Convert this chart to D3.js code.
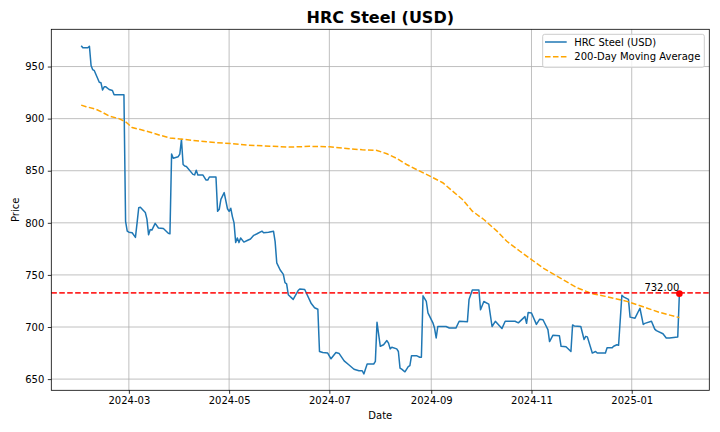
<!DOCTYPE html>
<html lang="en">
<head>
    <meta charset="UTF-8">
    <title>HRC Steel (USD)</title>
    <script src="https://d3js.org/d3.v7.min.js"></script>
    <style>
        body {
            margin: 0;
            background-color: #fff;
        }
        svg {
            display: block;
            font-family: "DejaVu Sans", sans-serif;
        }
    </style>
</head>
<body>
    <svg width="720" height="432"></svg>

    <script>
    // price series (vertices of the blue line)
    const priceDates = [
        "2024-02-01","2024-02-02","2024-02-05","2024-02-06","2024-02-07","2024-02-08","2024-02-09",
        "2024-02-12","2024-02-13","2024-02-14","2024-02-15","2024-02-16","2024-02-18","2024-02-20",
        "2024-02-21","2024-02-27","2024-02-28","2024-02-29","2024-03-01","2024-03-03","2024-03-05",
        "2024-03-06","2024-03-07","2024-03-08","2024-03-11","2024-03-12","2024-03-13","2024-03-14",
        "2024-03-15","2024-03-17","2024-03-19","2024-03-22","2024-03-25","2024-03-26","2024-03-27",
        "2024-03-28","2024-03-31","2024-04-01","2024-04-02","2024-04-03","2024-04-04","2024-04-05",
        "2024-04-09","2024-04-10","2024-04-11","2024-04-12","2024-04-15","2024-04-17","2024-04-18",
        "2024-04-19","2024-04-23","2024-04-24","2024-04-25","2024-04-26","2024-04-28","2024-04-30",
        "2024-05-01","2024-05-02","2024-05-03","2024-05-04","2024-05-05","2024-05-06","2024-05-07",
        "2024-05-08","2024-05-10","2024-05-12","2024-05-14","2024-05-16","2024-05-18","2024-05-21",
        "2024-05-22","2024-05-25","2024-05-28","2024-05-29","2024-05-30","2024-06-01","2024-06-03",
        "2024-06-04","2024-06-05","2024-06-06","2024-06-08","2024-06-09","2024-06-12","2024-06-13",
        "2024-06-16","2024-06-20","2024-06-22","2024-06-24","2024-06-25","2024-06-27","2024-06-30",
        "2024-07-02","2024-07-05","2024-07-07","2024-07-10","2024-07-13","2024-07-16","2024-07-19",
        "2024-07-21","2024-07-22","2024-07-24","2024-07-28","2024-07-29","2024-07-30","2024-08-01",
        "2024-08-03","2024-08-05","2024-08-06","2024-08-07","2024-08-08","2024-08-11","2024-08-12",
        "2024-08-13","2024-08-14","2024-08-16","2024-08-18","2024-08-19","2024-08-20","2024-08-23",
        "2024-08-25","2024-08-26","2024-08-27","2024-08-29","2024-08-30","2024-09-02","2024-09-03",
        "2024-09-04","2024-09-05","2024-09-10","2024-09-12","2024-09-16","2024-09-18","2024-09-23",
        "2024-09-24","2024-09-26","2024-09-29","2024-09-30","2024-10-01","2024-10-03","2024-10-06",
        "2024-10-08","2024-10-10","2024-10-14","2024-10-16","2024-10-22","2024-10-24","2024-10-28",
        "2024-10-29","2024-10-30","2024-11-01","2024-11-04","2024-11-06","2024-11-08","2024-11-11",
        "2024-11-12","2024-11-14","2024-11-18","2024-11-19","2024-11-22","2024-11-25","2024-11-26",
        "2024-11-27","2024-12-01","2024-12-03","2024-12-04","2024-12-05","2024-12-08","2024-12-10",
        "2024-12-11","2024-12-16","2024-12-17","2024-12-20","2024-12-21","2024-12-23","2024-12-24",
        "2024-12-26","2024-12-27","2024-12-30","2024-12-31","2025-01-03","2025-01-06","2025-01-08",
        "2025-01-09","2025-01-13","2025-01-15","2025-01-16","2025-01-20","2025-01-22","2025-01-24",
        "2025-01-29","2025-01-30"
    ];
    const prices = [
        970, 968, 968, 969.5, 951, 947, 946,
        935, 934.5, 927.5, 930.5, 930.5, 928, 927,
        923, 923, 801.5, 792, 791, 790.5, 786,
        800, 814.5, 815, 810, 803.5, 788.5, 793.5,
        793, 799.5, 795, 794.5, 790, 789.5, 866,
        862, 863.5, 866, 880, 856, 854.5, 854,
        846.5, 846, 850.5, 846, 846, 841, 841,
        844, 844, 811, 813, 822.5, 829, 813.5,
        811, 814, 806, 800, 781, 785.5, 781,
        785.5, 781.5, 783, 784.5, 788, 789.5, 792,
        790.5, 791, 792, 782, 761.5, 755, 750.5,
        742.5, 741.5, 731, 728, 726.5, 735, 736.5,
        736, 722.5, 718.5, 717, 676.5, 675.5, 675,
        669.5, 675.5, 674.5, 667.5, 663.5, 659.5, 658,
        658, 655, 664.5, 664.5, 667, 704.5, 681.5,
        683, 687, 684.5, 679, 680.5, 679, 676.5,
        660.5, 659.5, 657, 662, 663, 672.5, 672.5,
        671, 671, 730, 724.5, 713.5, 704, 699,
        689.5, 700.5, 700.5, 699, 699, 705.5, 705,
        726.5, 735.5, 735.5, 735.5, 716.5, 724.5, 722,
        700.5, 705.5, 698.5, 705.5, 705.5, 704, 710,
        703.5, 714, 713.5, 702.5, 707.5, 707, 697.5,
        686, 692, 691.5, 681.5, 681, 676.5, 702,
        701, 700.5, 688, 691, 690.5, 675, 676.5,
        675, 675, 680, 680, 681.5, 683, 682.5,
        730.5, 729, 726.5, 709.5, 708.5, 718, 702.5,
        703.5, 705.5, 698, 696.5, 693.5, 689.5, 689.5,
        690.5, 732
    ];

    // 200-day moving average (orange dashed)
    const maDates = [
        "2024-02-01","2024-02-04","2024-02-10","2024-02-14","2024-02-18","2024-02-24","2024-02-28",
        "2024-03-03","2024-03-08","2024-03-14","2024-03-20","2024-03-26","2024-04-01","2024-04-13",
        "2024-04-23","2024-05-03","2024-05-13","2024-05-26","2024-06-07","2024-06-19","2024-07-01",
        "2024-07-13","2024-07-21","2024-07-30","2024-08-05","2024-08-11","2024-08-17","2024-08-23",
        "2024-09-01","2024-09-08","2024-09-14","2024-09-20","2024-09-26","2024-10-03","2024-10-11",
        "2024-10-17","2024-10-25","2024-11-01","2024-11-08","2024-11-16","2024-11-22","2024-11-29",
        "2024-12-08","2024-12-16","2024-12-29","2025-01-10","2025-01-18","2025-01-30"
    ];
    const maValues = [
        913, 911.5, 909, 906, 902.5, 900, 897,
        891.5, 889.5, 887, 884, 881.5, 880.5, 878.5,
        877, 876, 874.5, 873.6, 872.7, 873.4, 873,
        871.2, 870.1, 869.5, 866.3, 861.8, 856, 851.2,
        844.2, 838.5, 830.4, 822.4, 811.2, 803.2, 792,
        782.3, 772.7, 764.7, 756.7, 749.3, 743.8, 737.5,
        732, 729.4, 724.6, 718.3, 714, 709
    ];

    const xTickDates = ["2024-03-01","2024-05-01","2024-07-01","2024-09-01","2024-11-01","2025-01-01"];
    const yTicks = [650, 700, 750, 800, 850, 900, 950];
    const seriesNames = ["HRC Steel (USD)", "200-Day Moving Average"];

    const parse = d3.timeParse("%Y-%m-%d");
    const data = priceDates.map((d, i) => ({date: parse(d), value: prices[i]}));
    const ma = maDates.map((d, i) => ({date: parse(d), value: maValues[i]}));
    const last = data[data.length - 1];

    const svg = d3.select("svg");
    const margin = {top: 29.3, right: 10.7, bottom: 41.7, left: 51.3};
    const width = 720, height = 432;
    const x0 = margin.left, x1 = width - margin.right;
    const y0 = height - margin.bottom, y1 = margin.top;

    // matplotlib style 5% padding around data
    const tExt = d3.extent(data, d => d.date);
    const tPad = (tExt[1] - tExt[0]) * 0.05;
    const xScale = d3.scaleTime()
        .domain([new Date(+tExt[0] - tPad), new Date(+tExt[1] + tPad)])
        .range([x0, x1]);

    const vExt = d3.extent(data.concat(ma), d => d.value);
    const vPad = (vExt[1] - vExt[0]) * 0.05;
    const yScale = d3.scaleLinear()
        .domain([vExt[0] - vPad, vExt[1] + vPad])
        .range([y0, y1]);

    const xTicks = xTickDates.map(parse);

    // grid
    const grid = svg.append("g").attr("stroke", "#b0b0b0").attr("stroke-width", 0.8);
    grid.selectAll(".vx").data(xTicks).enter().append("line")
        .attr("x1", d => xScale(d)).attr("x2", d => xScale(d))
        .attr("y1", y0).attr("y2", y1);
    grid.selectAll(".hy").data(yTicks).enter().append("line")
        .attr("y1", d => yScale(d)).attr("y2", d => yScale(d))
        .attr("x1", x0).attr("x2", x1);

    const line = d3.line().x(d => xScale(d.date)).y(d => yScale(d.value));

    const plot = svg.append("g");
    plot.append("path")
        .datum(data)
        .attr("d", line)
        .attr("fill", "none")
        .attr("stroke", "#1f77b4")
        .attr("stroke-width", 1.5)
        .attr("stroke-linejoin", "round");

    plot.append("path")
        .datum(ma)
        .attr("d", line)
        .attr("fill", "none")
        .attr("stroke", "orange")
        .attr("stroke-width", 1.5)
        .attr("stroke-dasharray", "5.55,2.4");

    // latest price line + marker
    plot.append("line")
        .attr("x1", x0).attr("x2", x1)
        .attr("y1", yScale(last.value) - 0.8).attr("y2", yScale(last.value) - 0.8)
        .attr("stroke", "red")
        .attr("stroke-opacity", 0.85)
        .attr("stroke-width", 1.6)
        .attr("stroke-dasharray", "5.55,2.4");

    plot.append("circle")
        .attr("cx", xScale(last.date))
        .attr("cy", yScale(last.value))
        .attr("r", 3.3)
        .attr("fill", "red");

    plot.append("text")
        .attr("x", xScale(last.date))
        .attr("y", yScale(last.value) - 2.5)
        .attr("text-anchor", "end")
        .attr("font-size", 10)
        .attr("fill", "#000")
        .text(last.value.toFixed(2));

    // frame
    svg.append("rect")
        .attr("x", x0).attr("y", y1)
        .attr("width", x1 - x0).attr("height", y0 - y1)
        .attr("fill", "none")
        .attr("stroke", "#000")
        .attr("stroke-width", 0.8);

    // axes
    const xAxis = svg.append("g")
        .attr("transform", `translate(0,${y0})`)
        .call(d3.axisBottom(xScale).tickValues(xTicks)
            .tickFormat(d3.timeFormat("%Y-%m")).tickSize(3.5).tickPadding(3.5));
    const yAxis = svg.append("g")
        .attr("transform", `translate(${x0},0)`)
        .call(d3.axisLeft(yScale).tickValues(yTicks).tickSize(3.5).tickPadding(3.5));

    [xAxis, yAxis].forEach(a => {
        a.select(".domain").remove();
        a.attr("font-family", "DejaVu Sans, sans-serif").attr("font-size", 10);
        a.selectAll(".tick line").attr("stroke", "#000").attr("stroke-width", 0.8);
        a.selectAll(".tick text").attr("fill", "#000");
    });

    // labels
    svg.append("text")
        .attr("x", (x0 + x1) / 2).attr("y", 419)
        .attr("text-anchor", "middle").attr("font-size", 10)
        .text("Date");
    svg.append("text")
        .attr("transform", `translate(19,${(y0 + y1) / 2}) rotate(-90)`)
        .attr("text-anchor", "middle").attr("font-size", 10)
        .text("Price");
    svg.append("text")
        .attr("x", (x0 + x1) / 2).attr("y", 23)
        .attr("text-anchor", "middle")
        .attr("font-size", 16).attr("font-weight", "bold")
        .text("HRC Steel (USD)");

    // legend
    const legend = svg.append("g").attr("transform", `translate(${x1 - 5 - 161.6},${y1 + 5})`);
    legend.append("rect")
        .attr("width", 161.6).attr("height", 33)
        .attr("rx", 2)
        .attr("fill", "#fff").attr("fill-opacity", 0.8)
        .attr("stroke", "#cccccc").attr("stroke-width", 1);
    const styles = [
        {color: "#1f77b4", dash: null},
        {color: "orange", dash: "5.55,2.4"}
    ];
    seriesNames.forEach((name, i) => {
        const yy = 7.7 + i * 14.7;
        legend.append("line")
            .attr("x1", 2.3).attr("x2", 24)
            .attr("y1", yy).attr("y2", yy)
            .attr("stroke", styles[i].color)
            .attr("stroke-width", 1.5)
            .attr("stroke-dasharray", styles[i].dash);
        legend.append("text")
            .attr("x", 31.6).attr("y", yy + 3.6)
            .attr("font-size", 10)
            .text(name);
    });
    </script>
</body>
</html>
